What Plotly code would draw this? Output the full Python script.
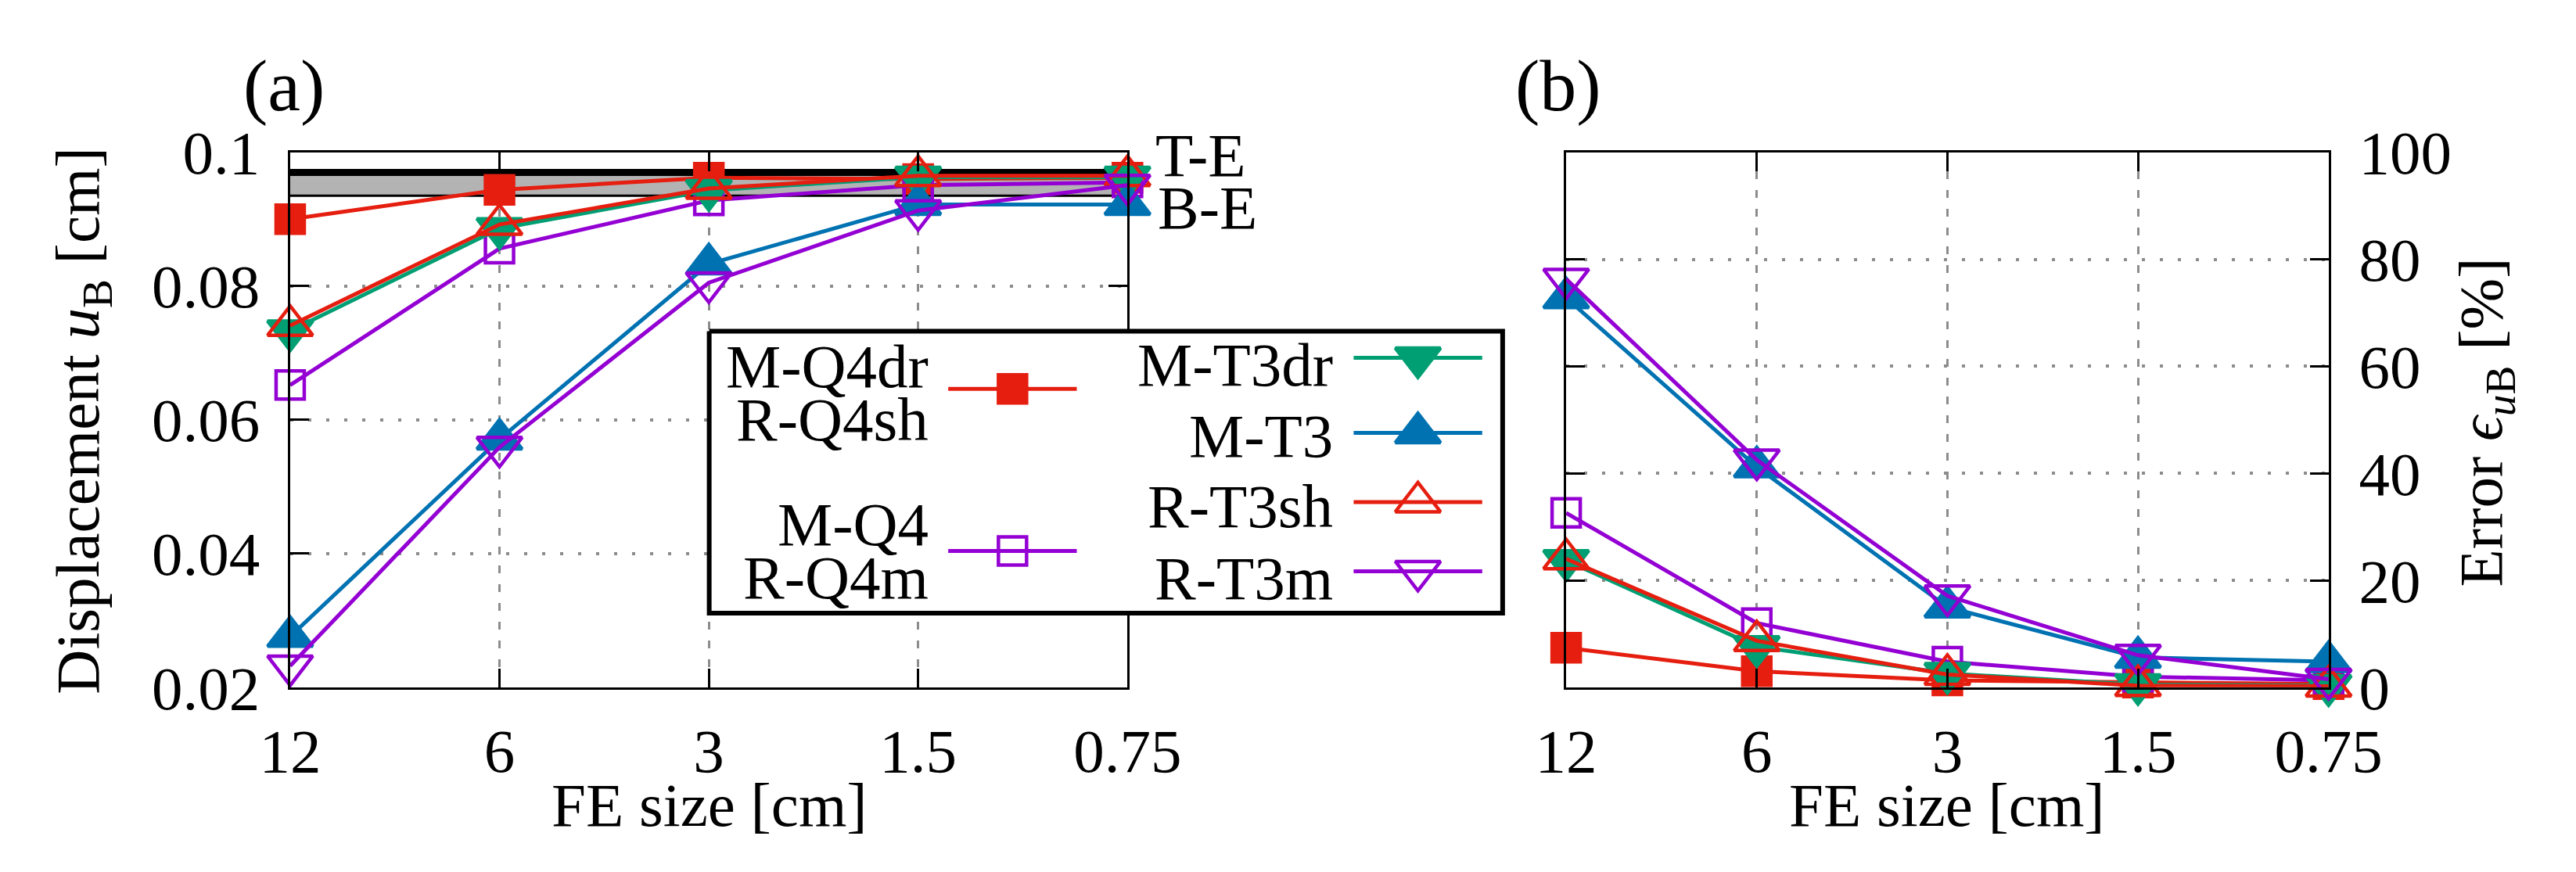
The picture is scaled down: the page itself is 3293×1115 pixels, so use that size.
import plotly.graph_objects as go

W, H = 3293, 1115

# ---------------- data ----------------
fe_size_labels = ["12", "6", "3", "1.5", "0.75"]
x_pos = list(range(len(fe_size_labels)))

disp_MQ4dr = [0.0900, 0.0944, 0.0962, 0.0960, 0.0962]
disp_MQ4 = [0.0652, 0.0856, 0.0928, 0.0951, 0.0955]
disp_MT3dr = [0.0733, 0.0886, 0.0943, 0.0963, 0.0963]
disp_MT3 = [0.0276, 0.0571, 0.0833, 0.0922, 0.0922]
disp_RT3sh = [0.0741, 0.0892, 0.0946, 0.0965, 0.0965]
disp_RT3m = [0.0232, 0.0559, 0.0805, 0.0913, 0.0951]

err_MQ4dr = [7.4, 3.0, 1.3, 0.9, 0.6]
err_MQ4 = [32.6, 12.0, 4.8, 2.0, 1.3]
err_MT3dr = [23.7, 7.6, 2.6, 0.5, 0.3]
err_MT3 = [72.8, 41.2, 15.0, 5.6, 4.8]
err_RT3sh = [24.0, 8.7, 2.4, 0.3, 0.2]
err_RT3m = [76.3, 42.5, 17.1, 6.0, 1.5]

ref_TE = 0.0970
ref_BE = 0.0935

disp_ticks = [0.02, 0.04, 0.06, 0.08, 0.1]
disp_tick_labels = ["0.02", "0.04", "0.06", "0.08", "0.1"]
err_ticks = [0, 20, 40, 60, 80, 100]
err_tick_labels = ["0", "20", "40", "60", "80", "100"]

# ---------------- styles ----------------
RED = "#E51E10"
GREEN = "#009E73"
BLUE = "#0072B2"
PURPLE = "#9400D3"
FONT = "Liberation Serif"
FS = 79
LW = 5
SQ = 36
TRI = 50

series = [
    ("M-Q4dr", disp_MQ4dr, err_MQ4dr, RED, "square", SQ),
    ("M-Q4", disp_MQ4, err_MQ4, PURPLE, "square-open", SQ),
    ("M-T3dr", disp_MT3dr, err_MT3dr, GREEN, "triangle-down", TRI),
    ("M-T3", disp_MT3, err_MT3, BLUE, "triangle-up", TRI),
    ("R-T3sh", disp_RT3sh, err_RT3sh, RED, "triangle-up-open", TRI),
    ("R-T3m", disp_RT3m, err_RT3m, PURPLE, "triangle-down-open", TRI),
]

fig = go.Figure()

for name, d, e, col, sym, sz in series:
    mk = dict(symbol=sym, size=sz, color=col, line=dict(color=col, width=4.5))
    fig.add_trace(go.Scatter(x=x_pos, y=d, mode="lines+markers", name=name,
                             line=dict(color=col, width=LW), marker=mk,
                             cliponaxis=False, showlegend=False,
                             xaxis="x", yaxis="y"))
    fig.add_trace(go.Scatter(x=x_pos, y=e, mode="lines+markers", name=name,
                             line=dict(color=col, width=LW), marker=mk,
                             cliponaxis=False, showlegend=False,
                             xaxis="x2", yaxis="y2"))

# ---------------- reference band ----------------
fig.add_shape(type="rect", xref="x", yref="y", x0=x_pos[0], x1=x_pos[-1],
              y0=ref_BE, y1=ref_TE, fillcolor="#b3b3b3", line=dict(width=0),
              layer="between")
fig.add_shape(type="line", xref="x", yref="y", x0=x_pos[0], x1=x_pos[-1],
              y0=ref_BE, y1=ref_BE, line=dict(color="black", width=3),
              layer="between")
fig.add_shape(type="line", xref="x", yref="y", x0=x_pos[0], x1=x_pos[-1],
              y0=ref_TE, y1=ref_TE, line=dict(color="black", width=9),
              layer="between")


def px(x):
    return x / W


def py(y):
    return 1 - y / H


# ---------------- custom legend (overlay axis in pixel units) ----------------
bx0, bx1, by0, by1 = 888, 1937, 405, 796
fig.add_trace(go.Scatter(x=[bx0, bx1, bx1, bx0, bx0], y=[by0, by0, by1, by1, by0],
                         mode="lines", fill="toself", fillcolor="white",
                         line=dict(color="black", width=6), showlegend=False,
                         hoverinfo="skip", xaxis="x3", yaxis="y3"))

legend_entries = [
    # (texts, color, symbol, size, text_right_x, line_x0, line_x1, line_y, text_ys)
    (["M-Q4dr", "R-Q4sh"], RED, "square", SQ, 1180, 1204, 1374, 485, [454, 528]),
    (["M-Q4", "R-Q4m"], PURPLE, "square-open", SQ, 1180, 1204, 1374, 710, [673, 747]),
    (["M-T3dr"], GREEN, "triangle-down", TRI, 1715, 1740, 1910, 442, [452]),
    (["M-T3"], BLUE, "triangle-up", TRI, 1715, 1740, 1910, 546, [550]),
    (["R-T3sh"], RED, "triangle-up-open", TRI, 1715, 1740, 1910, 642, [648]),
    (["R-T3m"], PURPLE, "triangle-down-open", TRI, 1715, 1740, 1910, 738, [748]),
]

annotations = []
for texts, col, sym, sz, tx, lx0, lx1, ly, tys in legend_entries:
    fig.add_trace(go.Scatter(x=[lx0, lx1], y=[ly, ly], mode="lines",
                             line=dict(color=col, width=LW), showlegend=False,
                             hoverinfo="skip", xaxis="x3", yaxis="y3"))
    fig.add_trace(go.Scatter(x=[(lx0 + lx1) / 2], y=[ly], mode="markers",
                             marker=dict(symbol=sym, size=sz, color=col,
                                         line=dict(color=col, width=4.5)),
                             showlegend=False, hoverinfo="skip",
                             xaxis="x3", yaxis="y3"))
    for t, ty in zip(texts, tys):
        annotations.append(dict(text=t, x=px(tx), y=py(ty), xref="paper", yref="paper",
                                xanchor="right", yanchor="middle", showarrow=False,
                                font=dict(family=FONT, size=FS, color="black")))

# ---------------- labels ----------------
def ann(text, x, y, size=FS, angle=0, xanchor="center"):
    annotations.append(dict(text=text, x=px(x), y=py(y), xref="paper", yref="paper",
                            xanchor=xanchor, yanchor="middle", showarrow=False,
                            textangle=angle,
                            font=dict(family=FONT, size=size, color="black")))


ann("(a)", 326, 64, size=94)
ann("(b)", 2011, 64, size=94)
ann("T-E", 1476, 161, xanchor="left")
ann("B-E", 1479, 234, xanchor="left")
ann("FE size [cm]", 888, 1062)
ann("FE size [cm]", 2525, 1062)
ann("Displacement <i>u</i><sub>B</sub> [cm]", 60, 530, angle=-90)
ann("Error <i>ϵ</i><sub><i>u</i>B</sub> [%]", 3237, 531, angle=-90)

# ---------------- axes ----------------
xd1 = [px(334), px(1441)]
xd2 = [px(2021), px(3029)]
yd = [py(899), py(157)]

xcommon = dict(tickvals=x_pos, ticktext=fe_size_labels, range=[x_pos[0], x_pos[-1]],
               showline=True, linewidth=3, linecolor="black", mirror="ticks",
               ticks="inside", ticklen=24, tickwidth=3, tickcolor="black",
               showgrid=True, gridcolor="#8c8c8c", gridwidth=3, griddash="10px,14px",
               zeroline=False, tickfont=dict(family=FONT, size=FS, color="black"),
               ticklabelstandoff=10)
ycommon = dict(showline=True, linewidth=3, linecolor="black", mirror="ticks",
               ticks="inside", ticklen=24, tickwidth=3, tickcolor="black",
               showgrid=True, gridcolor="#8c8c8c", gridwidth=4, griddash="4px,19px",
               zeroline=False, tickfont=dict(family=FONT, size=FS, color="black"),
               ticklabelstandoff=20)

fig.update_layout(
    width=W, height=H,
    margin=dict(l=0, r=0, t=0, b=0),
    paper_bgcolor="white", plot_bgcolor="rgba(0,0,0,0)",
    showlegend=False,
    font=dict(family=FONT, size=FS, color="black"),
    xaxis=dict(domain=xd1, anchor="y", **xcommon),
    yaxis=dict(domain=yd, anchor="x", range=[disp_ticks[0], disp_ticks[-1]],
               tickvals=disp_ticks, ticktext=disp_tick_labels, **ycommon),
    xaxis2=dict(domain=xd2, anchor="y2", **xcommon),
    yaxis2=dict(domain=yd, anchor="x2", side="right", range=[err_ticks[0], err_ticks[-1]],
                tickvals=err_ticks, ticktext=err_tick_labels, **ycommon),
    xaxis3=dict(domain=[0, 1], range=[0, W], visible=False, anchor="y3", fixedrange=True),
    yaxis3=dict(domain=[0, 1], range=[H, 0], visible=False, anchor="x3", fixedrange=True),
    annotations=annotations,
)

fig.write_html("out.html")
